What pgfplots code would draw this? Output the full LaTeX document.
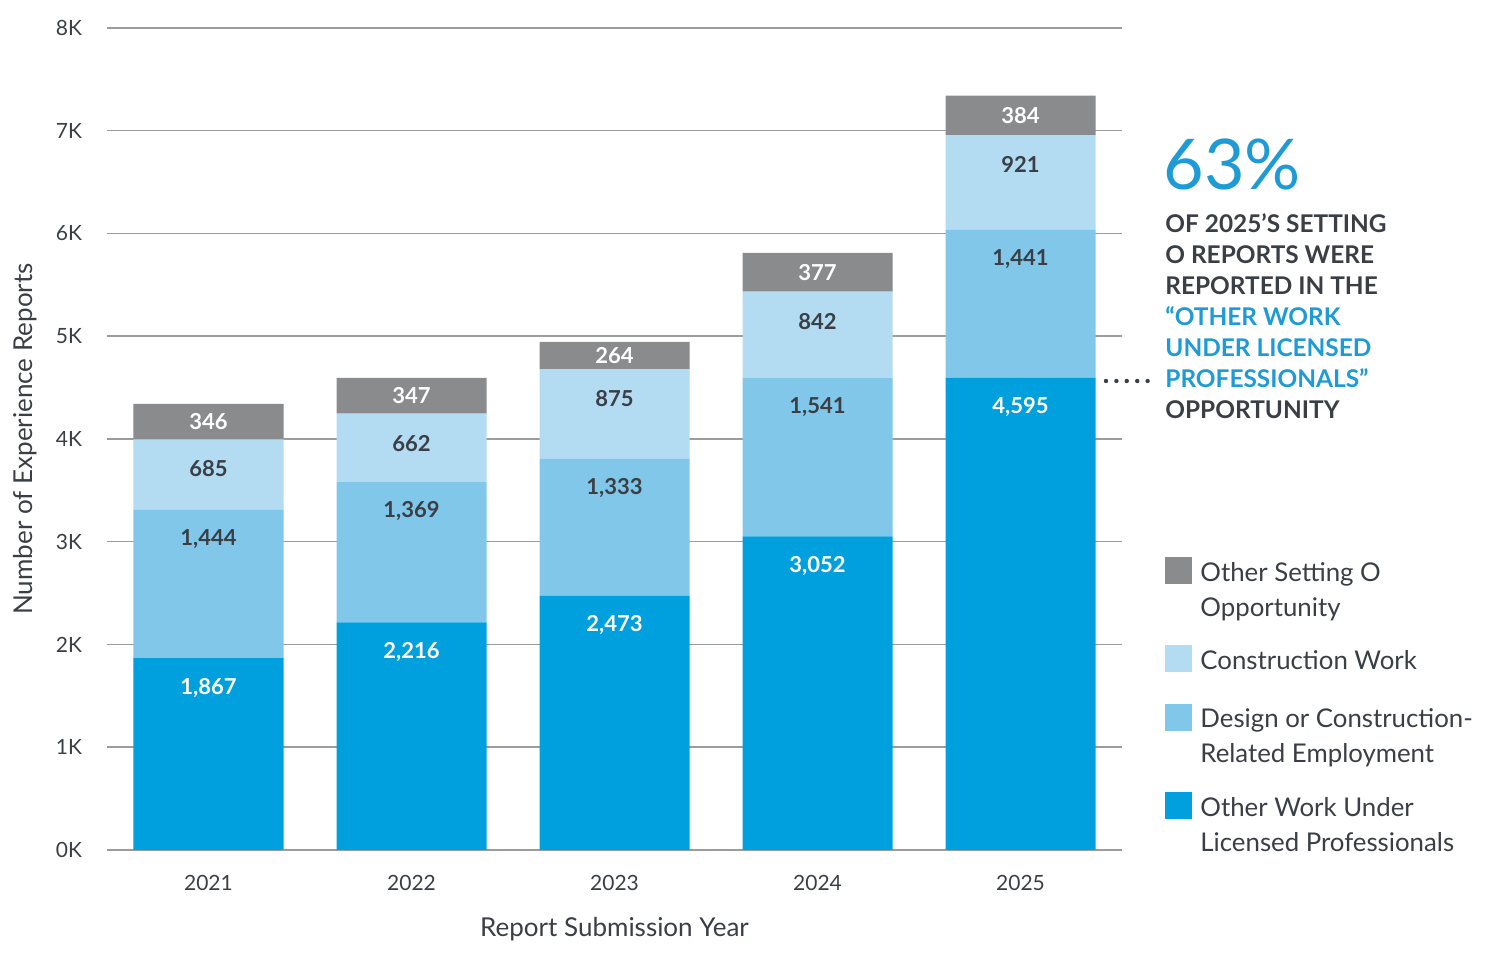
\documentclass[border=0pt]{standalone}
\usepackage{pgfplots}
\usepackage{pgfplotstable}
\usepackage{fontspec}
\setmainfont{Lato}
\pgfplotsset{compat=1.18}
\definecolor{cdark}{HTML}{00A0DF}
\definecolor{cmed}{HTML}{80C7EA}
\definecolor{clight}{HTML}{B3DCF3}
\definecolor{cgray}{HTML}{8A8B8D}
\definecolor{ctext}{HTML}{3A3F45}
\definecolor{cgrid}{HTML}{9C9C9C}
\definecolor{cann}{HTML}{1E9BD7}
\pgfplotstableread{
x dark med light gray
0 1867 1444 685 346
1 2216 1369 662 347
2 2473 1333 875 264
3 3052 1541 842 377
4 4595 1441 921 384
}\data
\begin{document}
\begin{tikzpicture}
\useasboundingbox (-53.5pt,-56.5pt) rectangle (696.5pt,425pt);
\begin{axis}[
  scale only axis, width=507.5pt, height=411pt,
  ybar stacked, bar width=75pt,
  xmin=-0.5, xmax=4.5, ymin=0, ymax=8000,
  xtick={0,1,2,3,4}, xticklabels={2021,2022,2023,2024,2025},
  ytick={0,1000,...,8000}, yticklabels={0K,1K,2K,3K,4K,5K,6K,7K,8K},
  /pgf/number format/assume math mode=true,
  axis line style={draw=none}, major tick length=0pt,
  ymajorgrids, grid style={cgrid, line width=0.75pt},
  tick label style={font=\fontsize{10.5}{13}\selectfont, text=ctext},
  xticklabel style={yshift=-9pt},
  yticklabel style={xshift=-9pt},
  every axis x label/.style={at={(axis description cs:0.5,-0.0965)}, anchor=center},
  every axis y label/.style={at={(axis description cs:-0.0808,0.5)}, anchor=center, rotate=90},
  xlabel={Report Submission Year}, ylabel={Number of Experience Reports},
  label style={font=\fontsize{13}{15}\selectfont, text=ctext},
  point meta=explicit,
  nodes near coords={\pgfmathprintnumber[fixed, precision=0, 1000 sep={,}]{\pgfplotspointmeta}},
  every node near coord/.append style={font=\bfseries\fontsize{11}{13}\selectfont, anchor=center},
]
\addplot[fill=cdark, draw=none, visualization depends on={\thisrow{dark}*0.0256875 \as \halfh},
  every node near coord/.append style={text=white, yshift=\halfh pt - 14.75pt}]
  table[x=x, y=dark, meta=dark] \data;
\addplot[fill=cmed, draw=none, visualization depends on={\thisrow{med}*0.0256875 \as \halfh},
  every node near coord/.append style={text=ctext, yshift=\halfh pt - 14.75pt}]
  table[x=x, y=med, meta=med] \data;
\addplot[fill=clight, draw=none, visualization depends on={\thisrow{light}*0.0256875 \as \halfh},
  every node near coord/.append style={text=ctext, yshift=\halfh pt - 14.75pt}]
  table[x=x, y=light, meta=light] \data;
\addplot[fill=cgray, draw=none,
  every node near coord/.append style={text=white}]
  table[x=x, y=gray, meta=gray] \data;
\end{axis}
% annotation
\node[anchor=base west, inner sep=0pt, text=cann, font=\fontsize{35}{40}\selectfont] at (528pt,330pt) {63\%};
\node[anchor=base west, inner sep=0pt, align=left, font=\bfseries\fontsize{12.2}{15.5}\selectfont, text=ctext] at (529pt,215.5pt)
  {OF 2025’S SETTING\\O REPORTS WERE\\REPORTED IN THE\\\textcolor{cann}{“OTHER WORK}\\\textcolor{cann}{UNDER LICENSED}\\\textcolor{cann}{PROFESSIONALS”}\\OPPORTUNITY};
\draw[ctext, line width=2.2pt, line cap=round, dash pattern=on 0pt off 5.2pt] (499.5pt,234.5pt) -- (521pt,234.5pt);
% legend
\begin{scope}[every node/.style={anchor=base west, inner sep=0pt, align=left, text=ctext, font=\fontsize{12.9}{17.25}\selectfont}]
\fill[cgray] (529pt,132.75pt) rectangle ++(13.5pt,13.5pt);
\node at (546.5pt,116.75pt) {Other Setting O\\Opportunity};
\fill[clight] (529pt,88.75pt) rectangle ++(13.5pt,13.5pt);
\node at (546.5pt,90pt) {Construction Work};
\fill[cmed] (529pt,59.25pt) rectangle ++(13.5pt,13.5pt);
\node at (546.5pt,43.75pt) {Design or Construction-\\Related Employment};
\fill[cdark] (529pt,15.25pt) rectangle ++(13.5pt,13.5pt);
\node at (546.5pt,-0.75pt) {Other Work Under\\Licensed Professionals};
\end{scope}
\end{tikzpicture}
\end{document}
